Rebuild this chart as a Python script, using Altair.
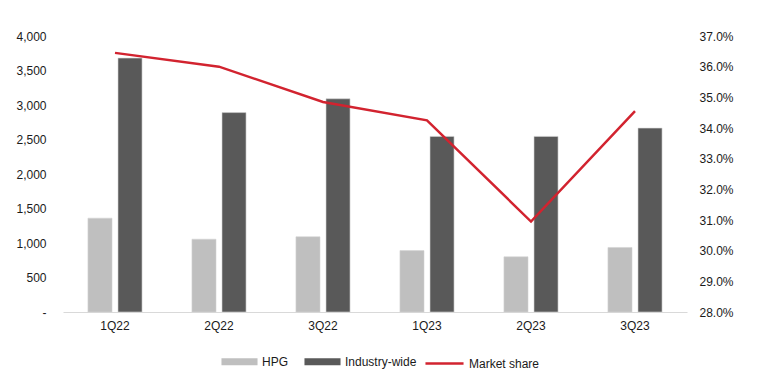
import altair as alt
import pandas as pd

quarters = ["1Q22", "2Q22", "3Q22", "1Q23", "2Q23", "3Q23"]
hpg = [1360, 1055, 1090, 890, 800, 935]
industry = [3680, 2890, 3090, 2545, 2545, 2665]
market_share_pct = [36.45, 36.0, 34.85, 34.25, 30.95, 34.55]

series_names = ["HPG", "Industry-wide"]
series_colors = ["#bfbfbf", "#595959"]
line_name = "Market share"
line_color = "#d2232f"

bars_df = pd.DataFrame(
    [{"quarter": q, "series": "HPG", "value": v} for q, v in zip(quarters, hpg)]
    + [{"quarter": q, "series": "Industry-wide", "value": v} for q, v in zip(quarters, industry)]
)
line_df = pd.DataFrame(
    {"quarter": quarters, "share": [s / 100 for s in market_share_pct], "label": line_name}
)

FONT = "Liberation Sans"

x_enc = alt.X(
    "quarter:N",
    sort=quarters,
    scale=alt.Scale(paddingInner=0.48, paddingOuter=0.24),
    axis=alt.Axis(
        title=None, labelAngle=0, ticks=False, domainColor="#d9d9d9",
        domainWidth=1, labelPadding=8,
    ),
)

bars = alt.Chart(bars_df).mark_bar(stroke="#d4d4d4", strokeWidth=0.6).encode(
    x=x_enc,
    xOffset=alt.XOffset("series:N", sort=series_names, scale=alt.Scale(paddingInner=0.2)),
    y=alt.Y(
        "value:Q",
        scale=alt.Scale(domain=[0, 4000], nice=False),
        axis=alt.Axis(
            title=None, values=list(range(0, 4001, 500)), grid=False, ticks=False,
            domain=False, labelPadding=17,
            labelExpr="datum.value == 0 ? '-' : format(datum.value, ',')",
        ),
    ),
    color=alt.Color(
        "series:N",
        scale=alt.Scale(domain=series_names, range=series_colors),
        legend=alt.Legend(
            title=None, orient="none", legendX=158, legendY=307, direction="horizontal",
            symbolType="M-1,-0.2H1V0.2H-1Z", symbolSize=1300, symbolStrokeWidth=0,
            symbolOpacity=1, columnPadding=15, labelOffset=4,
        ),
    ),
)

line = alt.Chart(line_df).mark_line(strokeWidth=2.5).encode(
    x=x_enc,
    y=alt.Y(
        "share:Q",
        scale=alt.Scale(domain=[0.28, 0.37], nice=False, zero=False),
        axis=alt.Axis(
            title=None, orient="right", values=[0.28 + i * 0.01 for i in range(10)],
            format=".1%", grid=False, ticks=False, domain=False, labelPadding=12,
        ),
    ),
    stroke=alt.Stroke(
        "label:N",
        scale=alt.Scale(domain=[line_name], range=[line_color]),
        legend=alt.Legend(
            title=None, orient="none", legendX=361, legendY=307, direction="horizontal",
            symbolType="stroke", symbolSize=1450, symbolStrokeWidth=2.5, labelOffset=4,
        ),
    ),
)

chart = (
    alt.layer(bars, line)
    .resolve_scale(y="independent", x="shared")
    .properties(
        width=624, height=276, autosize="none",
        padding={"left": 55, "top": 28, "right": 70, "bottom": 63},
    )
    .configure_view(stroke=None)
    .configure_axis(labelFont=FONT, labelFontSize=12, labelColor="#1a1a1a")
    .configure_legend(labelFont=FONT, labelFontSize=12, labelColor="#1a1a1a")
)

chart.save("out.html", embed_options={"renderer": "svg", "actions": False})
